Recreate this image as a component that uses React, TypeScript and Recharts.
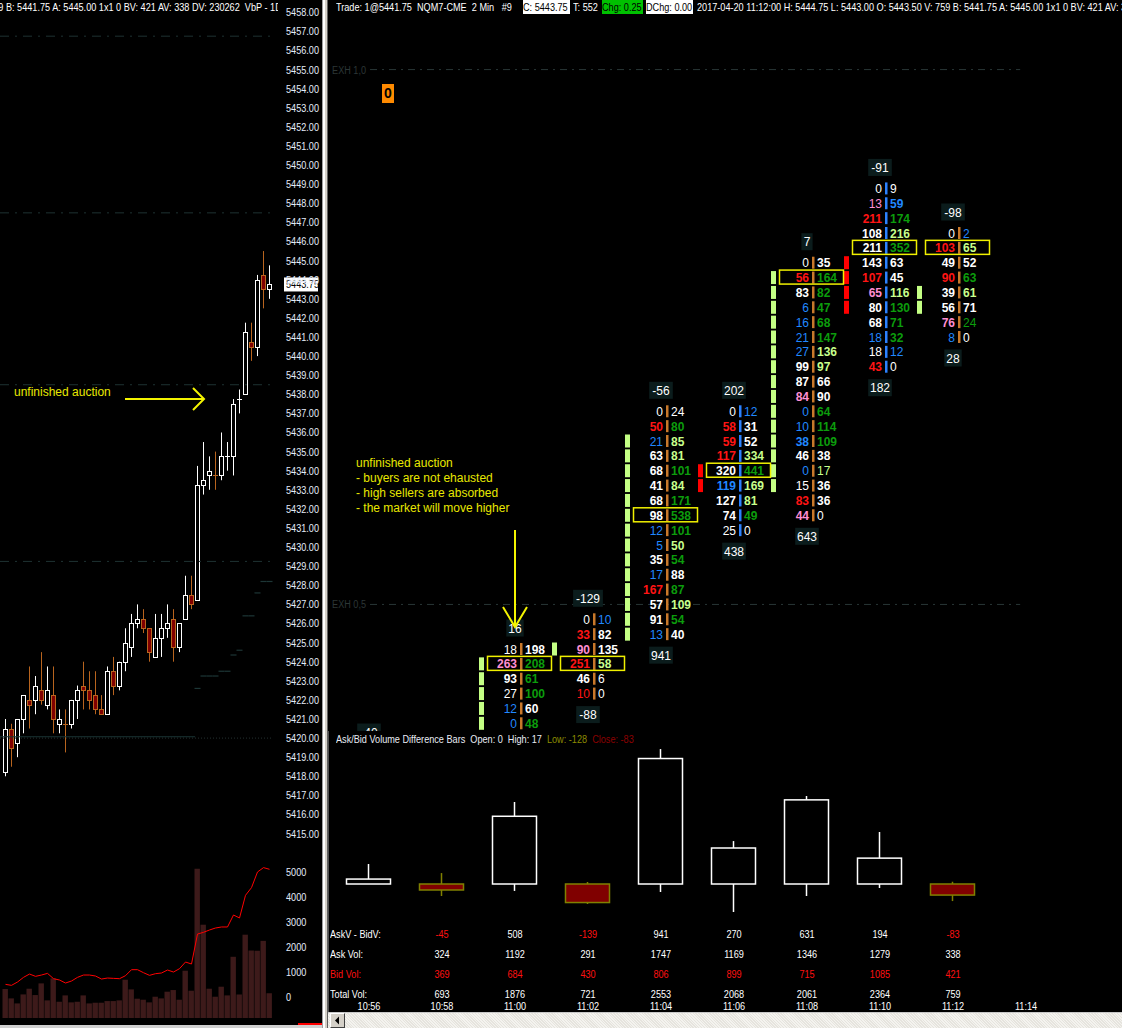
import React from "react";
import { ComposedChart, Bar, Line, Scatter, XAxis, YAxis, ReferenceLine } from "recharts";

const SANS = '"Liberation Sans", Arial, sans-serif';
const SQUEEZE = 0.83; // the chart's small font is narrower than Liberation Sans

// ---------- left pane: NQM7 2 min bars, oldest first (last bar = 11:12)
const barOpen = [5418.25, 5420.5, 5419.75, 5421.0, 5422.0, 5422.0, 5422.5, 5421.75, 5422.25, 5420.75, 5420.75, 5420.75, 5422.0, 5422.75, 5422.5, 5422.25, 5421.5, 5421.25, 5423.5, 5422.75, 5424.0, 5424.75, 5426.0, 5426.25, 5425.75, 5424.25, 5425.25, 5425.75, 5426.25, 5424.75, 5426.25, 5427.5, 5427.25, 5433.25, 5433.75, 5433.75, 5433.75, 5434.75, 5434.75, 5437.75, 5438.0, 5440.75, 5440.5, 5444.25, 5443.5];
const barHigh = [5421.0, 5420.75, 5421.0, 5422.25, 5423.75, 5423.25, 5424.5, 5423.75, 5423.75, 5421.5, 5421.5, 5422.0, 5422.75, 5424.0, 5423.5, 5423.5, 5422.25, 5423.75, 5424.25, 5424.0, 5425.75, 5426.5, 5427.0, 5426.75, 5425.75, 5426.5, 5426.5, 5427.0, 5426.75, 5426.0, 5428.5, 5428.5, 5434.25, 5435.5, 5434.75, 5435.0, 5436.0, 5435.5, 5437.75, 5438.25, 5441.75, 5441.75, 5444.25, 5445.5, 5444.75];
const barLow = [5418.0, 5418.5, 5419.0, 5420.25, 5420.5, 5421.25, 5421.75, 5421.5, 5420.25, 5420.25, 5419.25, 5420.5, 5421.0, 5421.5, 5421.5, 5421.25, 5421.25, 5421.25, 5422.25, 5422.5, 5423.5, 5424.25, 5425.75, 5425.5, 5424.0, 5424.25, 5424.25, 5425.25, 5424.0, 5424.5, 5426.25, 5426.75, 5427.25, 5432.75, 5433.0, 5433.0, 5433.5, 5434.0, 5433.75, 5437.0, 5438.0, 5439.75, 5440.0, 5442.5, 5443.0];
const barClose = [5420.5, 5419.5, 5421.0, 5422.25, 5421.75, 5422.75, 5422.0, 5422.5, 5421.0, 5421.0, 5420.75, 5422.0, 5422.5, 5422.5, 5422.0, 5421.5, 5421.25, 5423.5, 5422.75, 5424.0, 5425.0, 5426.0, 5426.25, 5425.75, 5424.5, 5425.25, 5425.75, 5426.0, 5424.75, 5426.0, 5427.5, 5427.0, 5433.25, 5433.5, 5434.0, 5433.75, 5434.75, 5434.75, 5437.5, 5437.75, 5441.25, 5440.5, 5444.0, 5443.5, 5443.75];
const barVolume = [887, 601, 447, 723, 897, 703, 1061, 540, 1214, 498, 693, 479, 498, 693, 447, 468, 468, 519, 519, 540, 1173, 877, 591, 560, 479, 652, 601, 806, 857, 560, 1449, 836, 4575, 2859, 897, 652, 959, 693, 1876, 721, 2553, 2068, 2061, 2364, 759];
const volumeLine = [496, 456, 590, 777, 911, 818, 871, 938, 724, 670, 550, 630, 777, 871, 871, 831, 710, 750, 737, 724, 845, 1086, 1086, 965, 858, 925, 952, 1072, 992, 1126, 1394, 1314, 2520, 2587, 2681, 2761, 2802, 2802, 3284, 3164, 4075, 4383, 5013, 5188, 5121];
// dim step levels over the last bars, starting at bar 32
const stepFirstBar = 32;
const stepLevels = [5422.6, 5423.25, 5423.25, 5423.25, 5423.5, 5423.5, 5424.35, 5424.6, 5426.4, 5426.4, 5427.6, 5428.2, 5428.2];
const leftDashLevels = [5456.75, 5447.5, 5438.5, 5429.25];
const priceTicks = [5415, 5416, 5417, 5418, 5419, 5420, 5421, 5422, 5423, 5424, 5425, 5426, 5427, 5428, 5429, 5430, 5431, 5432, 5433, 5434, 5435, 5436, 5437, 5438, 5439, 5440, 5441, 5442, 5443, 5444, 5445, 5446, 5447, 5448, 5449, 5450, 5451, 5452, 5453, 5454, 5455, 5456, 5457, 5458];
const volumeTicks = [0, 1000, 2000, 3000, 4000, 5000];

// ---------- right pane: footprint of the bars 10:56 .. 11:14
const times = ["10:56", "10:58", "11:00", "11:02", "11:04", "11:06", "11:08", "11:10", "11:12", "11:14"];
const firstFootprintBar = 36; // 10:56 in the left arrays
const fpBid = [
  [],
  [],
  [18, 263, 93, 27, 12, 0],
  [0, 33, 90, 251, 46, 10],
  [0, 50, 21, 63, 68, 41, 68, 98, 12, 5, 35, 17, 167, 57, 91, 13],
  [0, 58, 59, 117, 320, 119, 127, 74, 25],
  [0, 56, 83, 6, 16, 21, 27, 99, 87, 84, 0, 10, 38, 46, 0, 15, 83, 44],
  [0, 13, 211, 108, 211, 143, 107, 65, 80, 68, 18, 18, 43],
  [0, 103, 49, 90, 39, 56, 76, 8],
];
const fpAsk = [
  [],
  [],
  [198, 208, 61, 100, 60, 48],
  [10, 82, 135, 58, 6, 0],
  [24, 80, 85, 81, 101, 84, 171, 538, 101, 50, 54, 88, 87, 109, 54, 40],
  [12, 31, 52, 334, 441, 169, 81, 49, 0],
  [35, 164, 82, 47, 68, 147, 136, 97, 66, 90, 64, 114, 109, 38, 17, 36, 36, 0],
  [9, 59, 174, 216, 352, 63, 45, 116, 130, 71, 32, 12, 0],
  [2, 65, 52, 63, 61, 71, 24, 0],
];
// w white, r red, p pink, b blue, g green, l light green
const fpBidTone = ["", "", "wpwwbb", "wrprwr", "wrbwwwwwbbwbrwwb", "wrrrwbwww", "wrwbbbbwwpbbbwbwrp", "wprwwwrpwwbwr", "wrwrwwpb"];
const fpAskTone = ["", "", "wgggwg", "bwwlww", "wgllglggglgwglgw", "bwwlgllgw", "wgggggllwwgggwlwww", "wbglgwwlgggbw", "blwglwgw"];
const fpMaxRow = [null, null, 1, 3, 7, 4, 1, 4, 1];
const fpBuyStack = [[], [], [1, 2, 3, 4, 5], [2], [2, 3, 4, 5, 6, 7, 8, 9, 10, 11, 12, 13, 14, 15], [], [1, 2, 3, 4, 5, 6, 7, 8, 9, 10, 11, 12, 13, 14, 15], [], [4, 5]];
const fpSellStack = [[], [], [], [], [], [4, 5], [], [5, 6, 7, 8], []];
const fpTopLabel = [-40, null, 16, -129, -56, 202, 7, -91, -98];
const fpBottomLabel = [null, null, null, -88, 941, 438, 643, 182, 28];
const exhLevels = [5447.5, 5438.5];
const exhNames = ["EXH 1,0", "EXH 0,5"];

// ask/bid volume difference bars (open at 0)
const deltaHigh = [150, 82, 615, 15, 1012, 322, 660, 390, 17];
const deltaLow = [0, -90, -52, -150, -60, -210, -90, -30, -128];
const deltaClose = [37, -45, 508, -139, 941, 270, 631, 194, -83];

// table, bars 10:58 .. 11:12
const askVol = [324, 1192, 291, 1747, 1169, 1346, 1279, 338];
const bidVol = [369, 684, 430, 806, 899, 715, 1085, 421];
const totalVol = [693, 1876, 721, 2553, 2068, 2061, 2364, 759];
const tableNames = ["AskV - BidV:", "Ask Vol:", "Bid Vol:", "Total Vol:"];

const TONE: Record<string, string> = { w: "#ffffff", r: "#ff1414", p: "#ff8fd2", b: "#2088ff", g: "#0c9c0c", l: "#c8ff8c" };

const leftRows = barOpen.map((o, k) => ({
  x: k,
  open: o,
  high: barHigh[k],
  low: barLow[k],
  close: barClose[k],
  prev: k > 0 ? barClose[k - 1] : o,
  range: [barLow[k], barHigh[k]],
  vol: barVolume[k],
  avg: volumeLine[k],
}));
const stepRows = stepLevels.map((v, i) => ({ x: stepFirstBar + i, y: v }));

const isUp = (k: number) =>
  barClose[k] === barOpen[k] ? barClose[k] >= (k > 0 ? barClose[k - 1] : barOpen[k]) : barClose[k] > barOpen[k];

const cellRows: any[] = [];
const boxRows: any[] = [];
const stackRows: any[] = [];
const topRows: any[] = [];
const bottomRows: any[] = [];
fpBid.forEach((bids, i) => {
  const k = firstFootprintBar + i;
  const hi = barHigh[k];
  bids.forEach((b, r) =>
    cellRows.push({ x: i, y: hi - 0.25 * r, bid: b, ask: fpAsk[i][r], bt: fpBidTone[i][r], at: fpAskTone[i][r], up: isUp(k) })
  );
  if (fpMaxRow[i] != null) boxRows.push({ x: i, y: hi - 0.25 * (fpMaxRow[i] as number) });
  fpBuyStack[i].forEach((r) => stackRows.push({ x: i, y: hi - 0.25 * r, buy: true }));
  fpSellStack[i].forEach((r) => stackRows.push({ x: i, y: hi - 0.25 * r, buy: false }));
  if (fpTopLabel[i] != null) topRows.push({ x: i, y: hi, v: fpTopLabel[i] });
  if (fpBottomLabel[i] != null) bottomRows.push({ x: i, y: barLow[k], v: fpBottomLabel[i] });
});

const deltaRows = deltaClose.map((c, i) => ({ x: i, open: 0, close: c, high: deltaHigh[i], low: deltaLow[i], range: [deltaLow[i], deltaHigh[i]] }));

const tableRows: any[] = [];
askVol.forEach((a, j) => {
  const i = j + 1;
  tableRows.push({ x: i, y: 0, v: a - bidVol[j] });
  tableRows.push({ x: i, y: 1, v: a });
  tableRows.push({ x: i, y: 2, v: bidVol[j] });
  tableRows.push({ x: i, y: 3, v: totalVol[j] });
});

const ZERO = { top: 0, right: 0, bottom: 0, left: 0 };
const LEFT_X = [-0.9167, 46.25];
const RIGHT_X = [-0.56164, 10.3151];

// narrow svg text
const NText = ({ x, y, anchor = "start", fill = "#ffffff", children }: any) => (
  <text transform={`translate(${x} ${y}) scale(${SQUEEZE} 1)`} textAnchor={anchor} fill={fill} fontSize={11} fontFamily={SANS}>
    {children}
  </text>
);
// narrow html text
const Sq = ({ children, origin = "left" }: any) => (
  <span style={{ display: "inline-block", whiteSpace: "pre", transform: `scaleX(${SQUEEZE})`, transformOrigin: origin }}>{children}</span>
);

const PriceCandle = (p: any) => {
  const { x, y, width, height, payload: d } = p;
  if (x == null || !height) return <g />;
  const cx = Math.floor(x + width / 2) + 0.5;
  const at = (v: number) => y + ((d.high - v) / (d.high - d.low)) * height;
  const up = d.close === d.open ? d.close >= d.prev : d.close > d.open;
  const col = up ? "#ffffff" : "#b8641e";
  const top = Math.round(at(Math.max(d.open, d.close))) + 0.5;
  const bot = Math.round(at(Math.min(d.open, d.close))) + 0.5;
  return (
    <g>
      <line x1={cx} x2={cx} y1={y} y2={y + height} stroke={col} strokeWidth={1} />
      {top === bot ? (
        <line x1={cx - 2.5} x2={cx + 2.5} y1={top} y2={top} stroke={col} strokeWidth={1} />
      ) : (
        <rect x={cx - 2} y={top} width={4} height={bot - top} fill={up ? "#000000" : "#800000"} stroke={col} strokeWidth={1} />
      )}
    </g>
  );
};

const StepMark = (p: any) => {
  const { cx, cy } = p;
  if (cx == null) return <g />;
  return <line x1={cx - 3} x2={cx + 3} y1={cy} y2={cy} stroke="#1d3636" strokeWidth={1.2} />;
};

const PriceTick = (p: any) => (
  <NText x={p.x} y={p.y + 4} fill="#e4ecfa">
    {Number(p.payload.value).toFixed(2)}
  </NText>
);
const VolTick = (p: any) => (
  <NText x={p.x} y={p.y + 4} fill="#e4ecfa">
    {p.payload.value}
  </NText>
);

const FootprintCell = (p: any) => {
  const { cx, cy, payload: d } = p;
  if (cx == null) return <g />;
  const bx = cx + 6;
  return (
    <g fontFamily={SANS} fontSize={12}>
      <rect x={bx - 1} y={cy - 6} width={2.5} height={12} fill={d.up ? "#c8782a" : "#2c82ff"} />
      <text x={bx - 4} y={cy + 4.5} textAnchor="end" fill={TONE[d.bt]} fontWeight={d.bid >= 30 ? 700 : 400}>
        {d.bid}
      </text>
      <text x={bx + 4} y={cy + 4.5} textAnchor="start" fill={TONE[d.at]} fontWeight={d.ask >= 30 ? 700 : 400}>
        {d.ask}
      </text>
    </g>
  );
};

const MaxBox = (p: any) => {
  const { cx, cy } = p;
  if (cx == null) return <g />;
  return <rect x={cx - 27.5} y={cy - 7.5} width={64} height={14} fill="none" stroke="#f0f000" strokeWidth={1.5} />;
};

const StackMark = (p: any) => {
  const { cx, cy, payload } = p;
  if (cx == null) return <g />;
  return <rect x={cx - 36} y={cy - 6.5} width={5} height={13} fill={payload.buy ? "#c4ff84" : "#ff0000"} />;
};

const labelBox = (cx: number, cy: number, v: number) => {
  const s = String(v);
  const w = s.length * 6.2 + 5;
  return (
    <g>
      <rect x={cx - w / 2} y={cy - 8.5} width={w} height={17} fill="#0b1c1c" />
      <text x={cx} y={cy + 4.5} textAnchor="middle" fill="#ffffff" fontSize={12} fontFamily={SANS}>
        {s}
      </text>
    </g>
  );
};
const TopLabel = (p: any) => (p.cx == null ? <g /> : labelBox(p.cx, p.cy - 21, p.payload.v));
const BottomLabel = (p: any) => (p.cx == null ? <g /> : labelBox(p.cx, p.cy + 21, p.payload.v));

const DeltaCandle = (p: any) => {
  const { x, y, width, height, payload: d } = p;
  if (x == null || !height) return <g />;
  const cx = x + width / 2;
  const at = (v: number) => y + ((d.high - v) / (d.high - d.low)) * height;
  const up = d.close >= d.open;
  const col = up ? "#ffffff" : "#808000";
  const top = at(Math.max(d.open, d.close));
  const bot = at(Math.min(d.open, d.close));
  return (
    <g>
      <line x1={cx} x2={cx} y1={y} y2={y + height} stroke={col} strokeWidth={1.5} />
      <rect x={cx - 22} y={top} width={44} height={Math.max(bot - top, 1)} fill={up ? "#000000" : "#800000"} stroke={col} strokeWidth={1.5} />
    </g>
  );
};

const TableCell = (p: any) => {
  const { cx, cy, payload: d } = p;
  if (cx == null) return <g />;
  const red = d.y === 2 || (d.y === 0 && d.v < 0);
  return (
    <NText x={cx} y={cy + 4} anchor="middle" fill={red ? "#ff1010" : "#ffffff"}>
      {d.v}
    </NText>
  );
};
const TimeTick = (p: any) => (
  <NText x={p.x} y={p.y - 2} anchor="middle">
    {times[p.payload.value]}
  </NText>
);

const exhLabel = (name: string) => (props: any) => {
  const vb = props.viewBox || {};
  return (
    <NText x={vb.x - 4} y={vb.y + 4} anchor="end" fill="#2c3636">
      {name}
    </NText>
  );
};

const abs = (l: number, t: number, w: number, h: number, extra: React.CSSProperties = {}): React.CSSProperties => ({
  position: "absolute",
  left: l,
  top: t,
  width: w,
  height: h,
  ...extra,
});

export default function App() {
  return (
    <div style={abs(0, 0, 1122, 1028, { background: "#000", overflow: "hidden", fontFamily: SANS, fontSize: 11, color: "#fff" })}>
      {/* left pane: price */}
      <div style={abs(0, 0, 322, 850)}>
        <ComposedChart width={322} height={850} data={leftRows} margin={ZERO}>
          <XAxis type="number" dataKey="x" domain={LEFT_X} allowDataOverflow hide />
          <YAxis
            yAxisId="p"
            dataKey="y"
            type="number"
            orientation="right"
            width={39}
            domain={[5414.141, 5458.644]}
            allowDataOverflow
            ticks={priceTicks}
            interval={0}
            tickSize={0}
            tickMargin={3}
            axisLine={false}
            tickLine={false}
            tick={PriceTick}
          />
          {leftDashLevels.map((v) => (
            <ReferenceLine key={v} yAxisId="p" segment={[{ x: -0.9167, y: v }, { x: 44.1, y: v }]} stroke="#1e3232" strokeDasharray="9 6 2 6" />
          ))}
          <ReferenceLine yAxisId="p" segment={[{ x: -0.9167, y: 5420.07 }, { x: 31.6, y: 5420.07 }]} stroke="#1a3434" />
          <ReferenceLine yAxisId="p" segment={[{ x: -0.9167, y: 5420 }, { x: 44.3, y: 5420 }]} stroke="#243030" strokeDasharray="1 2" />
          <Bar yAxisId="p" dataKey="range" barSize={5} shape={PriceCandle} isAnimationActive={false} />
          <Scatter yAxisId="p" data={stepRows} shape={StepMark} isAnimationActive={false} />
          <ReferenceLine
            yAxisId="p"
            y={barClose[barClose.length - 1]}
            stroke="none"
            label={(props: any) => (
              <g>
                <rect x={284} y={props.viewBox.y - 7} width={34} height={14} fill="#ffffff" />
                <NText x={286} y={props.viewBox.y + 4} fill="#000000">
                  {barClose[barClose.length - 1].toFixed(2)}
                </NText>
              </g>
            )}
          />
        </ComposedChart>
      </div>
      {/* left pane: volume */}
      <div style={abs(0, 850, 322, 168)}>
        <ComposedChart width={322} height={168} data={leftRows} margin={ZERO}>
          <XAxis type="number" dataKey="x" domain={LEFT_X} allowDataOverflow hide />
          <YAxis yAxisId="vb" type="number" domain={[0, 5149]} allowDataOverflow hide />
          <YAxis
            yAxisId="vl"
            type="number"
            orientation="right"
            width={39}
            domain={[-856, 5896]}
            allowDataOverflow
            ticks={volumeTicks}
            interval={0}
            tickSize={0}
            tickMargin={3}
            axisLine={false}
            tickLine={false}
            tick={VolTick}
          />
          <Bar yAxisId="vb" dataKey="vol" barSize={6} fill="#3d1a1a" isAnimationActive={false} />
          <Line yAxisId="vl" dataKey="avg" stroke="#ff0000" strokeWidth={1} dot={false} type="linear" isAnimationActive={false} />
        </ComposedChart>
      </div>
      <div style={abs(0, 0, 278, 14, { overflow: "hidden", lineHeight: "14px" })}>
        <span style={{ position: "absolute", right: -4, top: 0 }}>
          <Sq origin="right">V: 759 B: 5441.75 A: 5445.00 1x1 0 BV: 421 AV: 338 DV: 230262  VbP - 1D</Sq>
        </span>
      </div>
      <div style={abs(14, 385, 120, 15, { color: "#e8e800", fontSize: 12, lineHeight: "15px" })}>unfinished auction</div>
      <svg style={abs(0, 0, 322, 1028, { pointerEvents: "none" })}>
        <path d="M125 399 L204 399 M193 388 L204 399 L193 410" stroke="#f4f400" strokeWidth={2} fill="none" />
      </svg>
      <div style={abs(0, 1025, 322, 3, { background: "#d0d0d0" })} />
      <div style={abs(298, 1023, 24, 2, { background: "#ff0000" })} />

      {/* divider */}
      <div style={abs(322, 0, 6, 1028, { background: "linear-gradient(to right, #a0a0a0 0 1px, #ffffff 1px 3px, #d4d0c8 3px 5px, #606060 5px 6px)" })} />

      {/* right pane: footprint */}
      <div style={abs(328, 0, 794, 740, { overflow: "hidden" })}>
        <ComposedChart width={794} height={740} margin={ZERO}>
          <XAxis type="number" dataKey="x" domain={RIGHT_X} allowDataOverflow hide />
          <YAxis type="number" dataKey="y" domain={[5436.219, 5448.6706]} allowDataOverflow hide />
          {exhLevels.map((v, i) => (
            <ReferenceLine
              key={v}
              segment={[{ x: 0.014, y: v }, { x: 8.92, y: v }]}
              stroke="#283636"
              strokeDasharray="7 5 2 5"
              label={exhLabel(exhNames[i])}
            />
          ))}
          <Scatter data={stackRows} shape={StackMark} isAnimationActive={false} />
          <Scatter data={cellRows} shape={FootprintCell} isAnimationActive={false} />
          <Scatter data={boxRows} shape={MaxBox} isAnimationActive={false} />
          <Scatter data={topRows} shape={TopLabel} isAnimationActive={false} />
          <Scatter data={bottomRows} shape={BottomLabel} isAnimationActive={false} />
        </ComposedChart>
      </div>
      <div style={abs(382, 84, 12, 19, { background: "#ff8a00", color: "#000", fontWeight: 700, fontSize: 14, lineHeight: "19px", textAlign: "center" })}>0</div>
      <div style={abs(356, 456, 200, 62, { color: "#e8e800", fontSize: 12, lineHeight: "15px", whiteSpace: "pre" })}>
        {"unfinished auction\n- buyers are not ehausted\n- high sellers are absorbed\n- the market will move higher"}
      </div>
      <svg style={abs(328, 0, 794, 740, { pointerEvents: "none" })}>
        <path d="M187 530 L187 626 M175 607 L187 627 L199 607" stroke="#f4f400" strokeWidth={2} fill="none" />
      </svg>

      {/* right pane header */}
      <div style={abs(328, 0, 794, 14, { overflow: "hidden", lineHeight: "14px" })}>
        <span style={{ position: "absolute", left: 8 }}>
          <Sq>{"Trade: 1@5441.75  NQM7-CME  2 Min   #9"}</Sq>
        </span>
        <span style={{ position: "absolute", left: 195, width: 47, height: 14, background: "#fff", color: "#000", overflow: "hidden" }}>
          <Sq>C: 5443.75</Sq>
        </span>
        <span style={{ position: "absolute", left: 245 }}>
          <Sq>T: 552</Sq>
        </span>
        <span style={{ position: "absolute", left: 274, width: 41, height: 14, background: "#00c000", color: "#000", overflow: "hidden" }}>
          <Sq>Chg: 0.25</Sq>
        </span>
        <span style={{ position: "absolute", left: 318, width: 47, height: 14, background: "#fff", color: "#000", overflow: "hidden" }}>
          <Sq>DChg: 0.00</Sq>
        </span>
        <span style={{ position: "absolute", left: 369 }}>
          <Sq>2017-04-20 11:12:00 H: 5444.75 L: 5443.00 O: 5443.50 V: 759 B: 5441.75 A: 5445.00 1x1 0 BV: 421 AV: 338 DV: 230262</Sq>
        </span>
      </div>

      {/* ask/bid volume difference bars */}
      <div style={abs(328, 731, 794, 190, { background: "#000", zIndex: 2 })}>
        <ComposedChart width={794} height={190} data={deltaRows} margin={ZERO}>
          <XAxis type="number" dataKey="x" domain={RIGHT_X} allowDataOverflow hide />
          <YAxis type="number" domain={[-277.5, 1147.5]} allowDataOverflow hide />
          <Bar dataKey="range" barSize={44} shape={DeltaCandle} isAnimationActive={false} />
        </ComposedChart>
        <div style={{ position: "absolute", left: 8, top: 1, lineHeight: "14px", color: "#e8ecf4" }}>
          <Sq>
            {"Ask/Bid Volume Difference Bars  Open: 0  High: 17  "}
            <span style={{ color: "#8c8c00" }}>Low: -128</span>
            {"  "}
            <span style={{ color: "#8c0000" }}>Close: -83</span>
          </Sq>
        </div>
      </div>
      {/* table + time axis */}
      <div style={abs(328, 921, 794, 105, { background: "#000", zIndex: 2 })}>
        <ComposedChart width={794} height={105} margin={ZERO}>
          <XAxis
            type="number"
            dataKey="x"
            domain={RIGHT_X}
            allowDataOverflow
            ticks={[0, 1, 2, 3, 4, 5, 6, 7, 8, 9]}
            interval={0}
            height={14}
            tickSize={0}
            tickMargin={0}
            axisLine={false}
            tickLine={false}
            tick={TimeTick}
          />
          <YAxis type="number" dataKey="y" domain={[-0.65, 3.9]} reversed allowDataOverflow hide />
          <Scatter data={tableRows} shape={TableCell} isAnimationActive={false} />
        </ComposedChart>
        {tableNames.map((n, r) => (
          <div key={n} style={{ position: "absolute", left: 2, top: 6 + 20 * r, lineHeight: "14px", color: r === 2 ? "#ff1010" : "#ffffff" }}>
            <Sq>{n}</Sq>
          </div>
        ))}
      </div>
      <div style={abs(328, 731, 1, 281, { background: "#505050", zIndex: 3 })} />
      {/* scrollbar */}
      <div
        style={abs(328, 1012, 794, 16, {
          zIndex: 4,
          background: "repeating-linear-gradient(45deg, #e6e4de 0 1px, #f4f3ef 1px 2px)",
          borderTop: "1px solid #c8c8c8",
          boxSizing: "border-box",
        })}
      >
        <div style={abs(2, 0, 15, 15, { background: "#d4d0c8", borderRight: "1px solid #404040", borderBottom: "1px solid #404040", borderLeft: "1px solid #fff", borderTop: "1px solid #fff", boxSizing: "border-box" })}>
          <svg width={13} height={13} style={{ position: "absolute", left: 0, top: 0 }}>
            <path d="M4 6.5 L8 2.5 L8 10.5 Z" fill="#000" />
          </svg>
        </div>
      </div>
    </div>
  );
}
